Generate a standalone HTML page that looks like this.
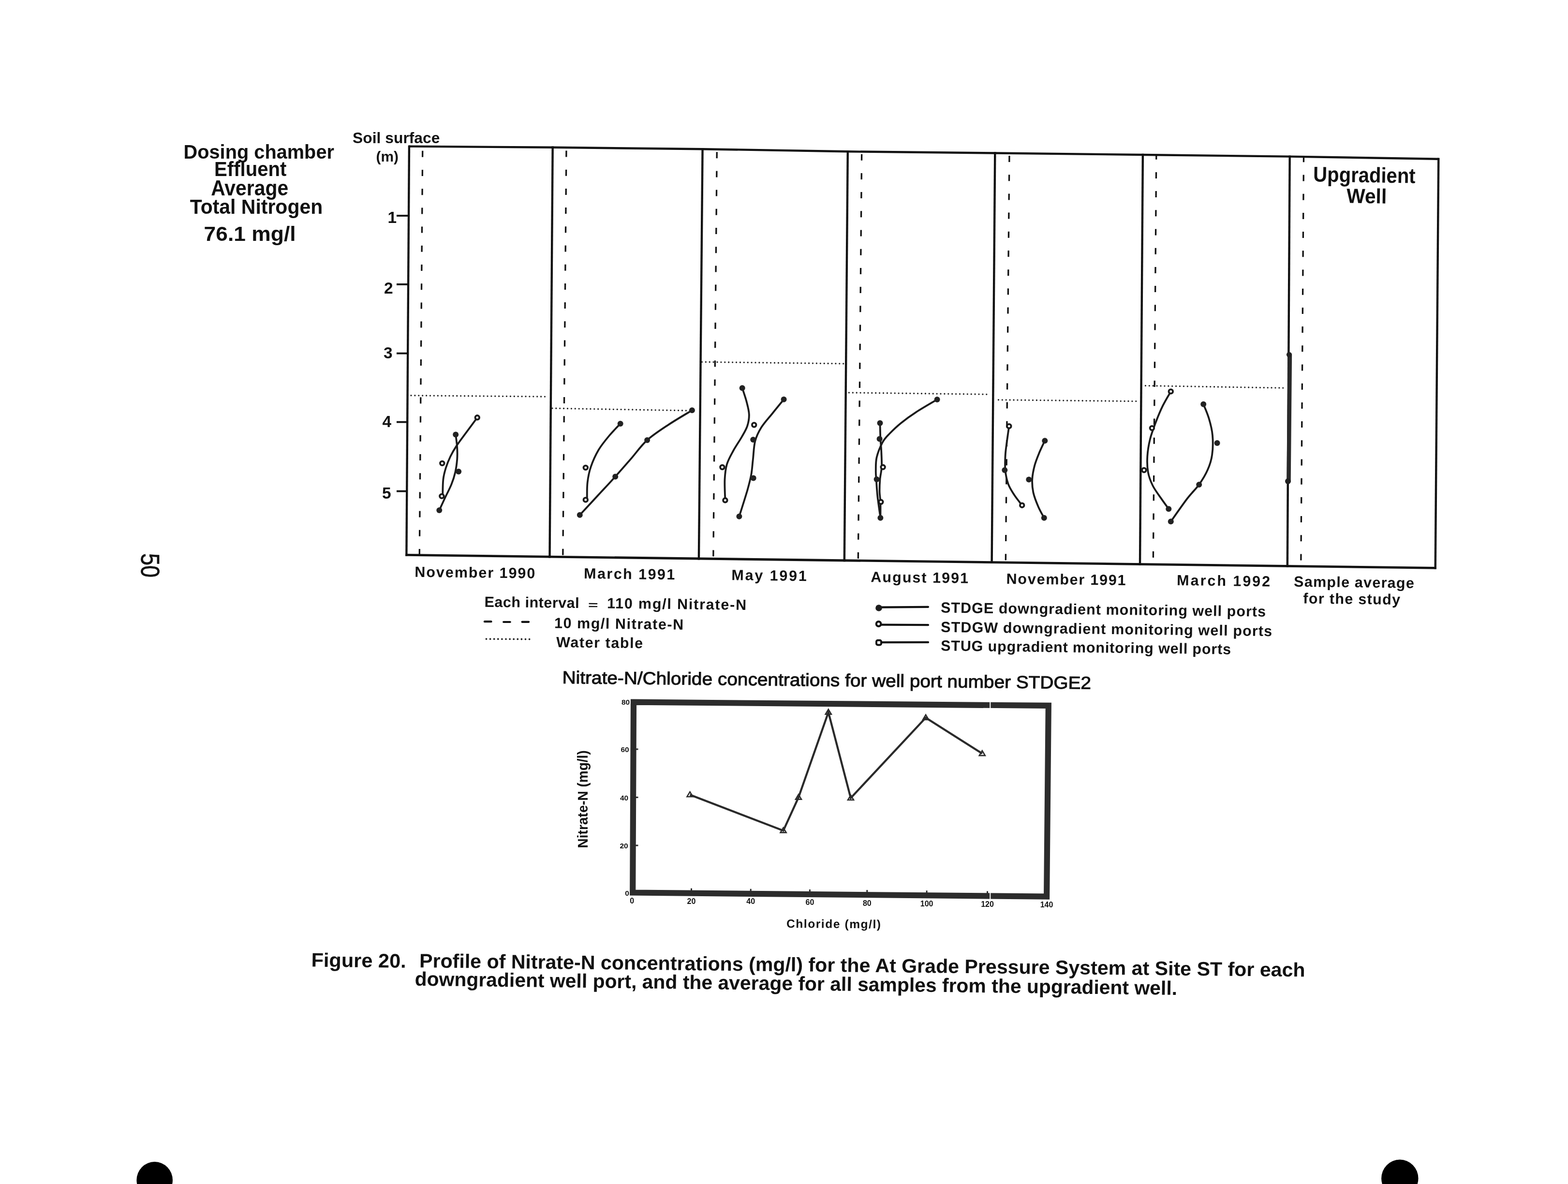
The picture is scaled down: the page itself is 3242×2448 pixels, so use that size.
<!DOCTYPE html>
<html><head><meta charset="utf-8"><title>Figure 20</title>
<style>html,body{margin:0;padding:0;background:#fff;width:3242px;height:2448px;overflow:hidden}svg{display:block}</style>
</head><body>
<svg width="3242" height="2448" viewBox="0 0 3242 2448" font-family="'Liberation Sans', Arial, sans-serif" fill="#111">
<rect x="0" y="0" width="3242" height="2448" fill="#fff"/>
<polyline points="846,302.6 1142.7,304.8 1452.6,308.2 1752.8,313.3 2057.3,316.5 2362.9,320 2666.7,323.6 2974.3,328.7" fill="none" stroke="#111" stroke-width="4.4"/>
<line x1="838.4" y1="1147.3" x2="2969.7" y2="1174.3" stroke="#111" stroke-width="4.8"/>
<line x1="846" y1="300.4" x2="840.4" y2="1149.7" stroke="#111" stroke-width="4.4"/>
<line x1="1142.7" y1="302.6" x2="1136.5" y2="1153.5" stroke="#111" stroke-width="4.4"/>
<line x1="1452.6" y1="306" x2="1444.9" y2="1157.4" stroke="#111" stroke-width="4.4"/>
<line x1="1752.8" y1="311.1" x2="1745.8" y2="1161.2" stroke="#111" stroke-width="4.4"/>
<line x1="2057.3" y1="314.3" x2="2050.6" y2="1165.1" stroke="#111" stroke-width="4.4"/>
<line x1="2362.9" y1="317.8" x2="2357" y2="1168.9" stroke="#111" stroke-width="4.4"/>
<line x1="2666.7" y1="321.4" x2="2661.8" y2="1172.8" stroke="#111" stroke-width="4.4"/>
<line x1="2974.3" y1="326.5" x2="2967.7" y2="1176.7" stroke="#111" stroke-width="4.4"/>
<line x1="873.8" y1="302.8" x2="867.3" y2="1147.6" stroke="#111" stroke-width="3.3" stroke-dasharray="13 26.2" stroke-dashoffset="30.2"/>
<line x1="1171" y1="305.1" x2="1163.8" y2="1151.4" stroke="#111" stroke-width="3.3" stroke-dasharray="13 26.2" stroke-dashoffset="32.8"/>
<line x1="1482.3" y1="308.7" x2="1474.8" y2="1155.4" stroke="#111" stroke-width="3.3" stroke-dasharray="13 26.2" stroke-dashoffset="33.7"/>
<line x1="1781.7" y1="313.6" x2="1774.3" y2="1159.2" stroke="#111" stroke-width="3.3" stroke-dasharray="13 26.2" stroke-dashoffset="34.1"/>
<line x1="2087" y1="316.8" x2="2079.3" y2="1163" stroke="#111" stroke-width="3.3" stroke-dasharray="13 26.2" stroke-dashoffset="34"/>
<line x1="2390.8" y1="320.3" x2="2384.3" y2="1166.9" stroke="#111" stroke-width="3.3" stroke-dasharray="13 26.2" stroke-dashoffset="3.6"/>
<line x1="2695.5" y1="324.1" x2="2689.8" y2="1170.8" stroke="#111" stroke-width="3.3" stroke-dasharray="13 26.2" stroke-dashoffset="1.8"/>
<line x1="820" y1="446" x2="843" y2="446" stroke="#111" stroke-width="3.8"/>
<line x1="820" y1="587.9" x2="843" y2="587.9" stroke="#111" stroke-width="3.8"/>
<line x1="820" y1="730.6" x2="843" y2="730.6" stroke="#111" stroke-width="3.8"/>
<line x1="820" y1="872.6" x2="843" y2="872.6" stroke="#111" stroke-width="3.8"/>
<line x1="820" y1="1015.6" x2="843" y2="1015.6" stroke="#111" stroke-width="3.8"/>
<text x="801.5" y="460.5" font-size="33.5" font-weight="bold">1</text>
<text x="794" y="606.5" font-size="33.5" font-weight="bold">2</text>
<text x="793" y="741" font-size="33.5" font-weight="bold">3</text>
<text x="790.5" y="883" font-size="33.5" font-weight="bold">4</text>
<text x="790" y="1031" font-size="33.5" font-weight="bold">5</text>
<text x="729" y="296" font-size="31.5" font-weight="bold" textLength="180.5" lengthAdjust="spacingAndGlyphs">Soil surface</text>
<text x="777.5" y="334" font-size="29" font-weight="bold" textLength="46.5" lengthAdjust="spacingAndGlyphs">(m)</text>
<line x1="850" y1="817.7" x2="1133" y2="820.1" stroke="#222" stroke-width="3.3" stroke-dasharray="0 7.9" stroke-linecap="round"/>
<line x1="1141.9" y1="844.1" x2="1436.9" y2="849.2" stroke="#222" stroke-width="3.3" stroke-dasharray="0 7.9" stroke-linecap="round"/>
<line x1="1451.4" y1="748.3" x2="1744.9" y2="751.9" stroke="#222" stroke-width="3.3" stroke-dasharray="0 7.9" stroke-linecap="round"/>
<line x1="1755.4" y1="811.8" x2="2047.4" y2="815.4" stroke="#222" stroke-width="3.3" stroke-dasharray="0 7.9" stroke-linecap="round"/>
<line x1="2064.4" y1="826.7" x2="2356.4" y2="829.7" stroke="#222" stroke-width="3.3" stroke-dasharray="0 7.9" stroke-linecap="round"/>
<line x1="2368.4" y1="797.4" x2="2658.9" y2="802.2" stroke="#222" stroke-width="3.3" stroke-dasharray="0 7.9" stroke-linecap="round"/>
<path d="M986.8,863.3 C982.5,869.2 968,888.7 960.7,898.6 C953.5,908.5 948.3,915.1 943.4,922.6 C938.5,930 935,936 931.4,943.5 C927.8,951 924.3,959.5 921.8,967.5 C919.3,975.5 917.5,981.7 916.4,991.4 C915.3,1001.2 915.4,1020.1 915.2,1025.9" fill="none" stroke="#1a1a1a" stroke-width="3.8" stroke-linecap="round" stroke-linejoin="round"/>
<path d="M942.2,898.6 C942.7,903.1 944.7,917.1 945.2,925.6 C945.7,934 945.8,941 945.2,949.5 C944.5,958 943.3,967.7 941.3,976.5 C939.3,985.2 936.7,993.2 933.2,1001.9 C929.7,1010.6 924.5,1020 920.3,1028.9 C916.2,1037.7 910.3,1050.6 908.3,1054.9" fill="none" stroke="#1a1a1a" stroke-width="3.8" stroke-linecap="round" stroke-linejoin="round"/>
<circle cx="942.2" cy="898.6" r="6" fill="#222"/>
<circle cx="948.2" cy="975" r="6" fill="#222"/>
<circle cx="908.3" cy="1054.9" r="6" fill="#222"/>
<circle cx="986.8" cy="863.3" r="4.3" fill="#fff" stroke="#1a1a1a" stroke-width="3.8"/>
<circle cx="914.3" cy="957.9" r="4.3" fill="#fff" stroke="#1a1a1a" stroke-width="3.8"/>
<circle cx="913.4" cy="1025.9" r="4.3" fill="#fff" stroke="#1a1a1a" stroke-width="3.8"/>
<path d="M1198.8,1064.8 C1205,1058.1 1224,1037.6 1236.2,1024.4 C1248.5,1011.1 1260.7,998.2 1272.2,985.4 C1283.7,972.7 1294.1,960.6 1305.1,948 C1316.1,935.4 1325.1,921.7 1338.1,910 C1351,898.3 1367.5,887.9 1383,877.6 C1398.4,867.4 1422.9,853.2 1430.9,848.3" fill="none" stroke="#1a1a1a" stroke-width="3.8" stroke-linecap="round" stroke-linejoin="round"/>
<path d="M1282.7,876.1 C1278.9,880.1 1267.7,891.1 1260.2,900.1 C1252.7,909.1 1244.1,919.3 1237.7,930 C1231.4,940.8 1225.7,953.3 1221.9,964.5 C1218,975.7 1216,985.9 1214.7,997.4 C1213.3,1008.9 1213.9,1027.4 1213.8,1033.4" fill="none" stroke="#1a1a1a" stroke-width="3.8" stroke-linecap="round" stroke-linejoin="round"/>
<circle cx="1198.8" cy="1064.8" r="6" fill="#222"/>
<circle cx="1272.2" cy="985.4" r="6" fill="#222"/>
<circle cx="1338.1" cy="910" r="6" fill="#222"/>
<circle cx="1430.9" cy="848.3" r="6" fill="#222"/>
<circle cx="1282.7" cy="876.1" r="6" fill="#222"/>
<circle cx="1210.8" cy="966.9" r="4.3" fill="#fff" stroke="#1a1a1a" stroke-width="3.8"/>
<circle cx="1210.8" cy="1033.4" r="4.3" fill="#fff" stroke="#1a1a1a" stroke-width="3.8"/>
<path d="M1534.7,802.2 C1536.1,806.8 1541,820.6 1543.4,829.7 C1545.7,838.8 1548.5,848.2 1548.8,856.7 C1549.1,865.2 1547.7,872.9 1545.2,880.6 C1542.7,888.4 1538.6,894.6 1533.8,903.1 C1529,911.6 1521.6,922.1 1516.4,931.5 C1511.3,941 1505.9,950 1502.9,960 C1500,970 1499.1,979.1 1498.5,991.4 C1497.9,1003.8 1499.2,1027.1 1499.4,1034.3" fill="none" stroke="#1a1a1a" stroke-width="3.8" stroke-linecap="round" stroke-linejoin="round"/>
<path d="M1620.6,825.8 C1616.6,830.7 1604.4,845.5 1596.7,855.2 C1588.9,864.8 1580.1,874.1 1574.2,883.6 C1568.3,893.1 1564.2,901.1 1561.3,912.1 C1558.4,923.1 1558.2,938 1556.9,949.5 C1555.5,961 1555.2,970.2 1553.3,981 C1551.3,991.7 1549.3,999.4 1545.2,1013.9 C1541,1028.4 1531.2,1058.8 1528.4,1067.8" fill="none" stroke="#1a1a1a" stroke-width="3.8" stroke-linecap="round" stroke-linejoin="round"/>
<circle cx="1534.7" cy="802.2" r="6" fill="#222"/>
<circle cx="1620.6" cy="825.8" r="6" fill="#222"/>
<circle cx="1557.2" cy="909.1" r="6" fill="#222"/>
<circle cx="1557.7" cy="988.4" r="6" fill="#222"/>
<circle cx="1528.4" cy="1067.8" r="6" fill="#222"/>
<circle cx="1559.2" cy="878.5" r="4.3" fill="#fff" stroke="#1a1a1a" stroke-width="3.8"/>
<circle cx="1493.4" cy="966" r="4.3" fill="#fff" stroke="#1a1a1a" stroke-width="3.8"/>
<circle cx="1499.4" cy="1034.3" r="4.3" fill="#fff" stroke="#1a1a1a" stroke-width="3.8"/>
<path d="M1937.6,826 C1930.4,830.4 1906.6,844 1894.2,852.1 C1881.7,860.2 1872.2,867.2 1862.9,874.7 C1853.6,882.2 1845,890.6 1838.6,897.2 C1832.2,903.9 1829.1,906.5 1824.7,914.6 C1820.4,922.7 1814.9,936 1812.6,945.8 C1810.3,955.7 1811,966.1 1810.8,973.6 C1810.7,981.1 1811.1,982.3 1811.7,991 C1812.3,999.7 1812.9,1012.4 1814.3,1025.7 C1815.8,1039 1819.4,1063.3 1820.4,1070.8" fill="none" stroke="#1a1a1a" stroke-width="3.8" stroke-linecap="round" stroke-linejoin="round"/>
<path d="M1819.5,874.7 C1819.7,880.2 1820,898.3 1820.4,907.6 C1820.8,916.8 1821.7,920.6 1822.1,930.2 C1822.5,939.7 1823.4,954.8 1823,964.9 C1822.6,975 1820.2,982.3 1819.5,991 C1818.8,999.7 1818.5,1009.2 1818.6,1017 C1818.8,1024.8 1820.1,1028.9 1820.4,1037.8 C1820.7,1046.8 1820.4,1065.3 1820.4,1070.8" fill="none" stroke="#1a1a1a" stroke-width="3.8" stroke-linecap="round" stroke-linejoin="round"/>
<circle cx="1937.6" cy="826" r="6" fill="#222"/>
<circle cx="1819.5" cy="874.7" r="6" fill="#222"/>
<circle cx="1818.6" cy="907.6" r="6" fill="#222"/>
<circle cx="1812.6" cy="991" r="6" fill="#222"/>
<circle cx="1820.4" cy="1070.8" r="6" fill="#222"/>
<circle cx="1825.6" cy="965.8" r="4.3" fill="#fff" stroke="#1a1a1a" stroke-width="3.8"/>
<circle cx="1821.3" cy="1037.8" r="4.3" fill="#fff" stroke="#1a1a1a" stroke-width="3.8"/>
<path d="M2086.3,881.2 C2085.6,885.9 2083.7,899.5 2082.4,909.1 C2081.2,918.7 2079.5,928.5 2078.8,939 C2078.2,949.5 2077.6,961.7 2078.5,972 C2079.5,982.2 2081.4,991.8 2084.5,1000.4 C2087.6,1009.1 2092.6,1016.4 2097.4,1023.8 C2102.2,1031.2 2110.6,1041.2 2113.2,1044.7" fill="none" stroke="#1a1a1a" stroke-width="3.8" stroke-linecap="round" stroke-linejoin="round"/>
<path d="M2160.3,911.2 C2158.4,915.2 2152.7,926.7 2149.2,935.1 C2145.7,943.6 2141.8,952.7 2139.3,962.1 C2136.8,971.5 2134.7,982 2134.2,991.4 C2133.8,1000.9 2134.5,1009.6 2136.6,1019 C2138.7,1028.4 2143.1,1039.1 2146.8,1047.7 C2150.5,1056.4 2156.8,1066.9 2158.8,1070.8" fill="none" stroke="#1a1a1a" stroke-width="3.8" stroke-linecap="round" stroke-linejoin="round"/>
<circle cx="2077.3" cy="972" r="6" fill="#222"/>
<circle cx="2160.3" cy="911.2" r="6" fill="#222"/>
<circle cx="2127.3" cy="991.4" r="6" fill="#222"/>
<circle cx="2158.8" cy="1070.8" r="6" fill="#222"/>
<circle cx="2086.3" cy="881.2" r="4.3" fill="#fff" stroke="#1a1a1a" stroke-width="3.8"/>
<circle cx="2113.2" cy="1044.7" r="4.3" fill="#fff" stroke="#1a1a1a" stroke-width="3.8"/>
<path d="M2420.8,809.4 C2418,814.3 2409.4,828.3 2404.3,838.7 C2399.2,849.1 2394.6,860.2 2390.2,871.7 C2385.9,883.1 2381,895.6 2378,907.6 C2375,919.6 2373,932 2372.3,943.5 C2371.6,955 2371.9,966.4 2373.8,976.5 C2375.6,986.5 2378.9,995 2383.4,1004 C2387.8,1013 2395.2,1022.3 2400.7,1030.4 C2406.2,1038.4 2413.7,1048.6 2416.3,1052.2" fill="none" stroke="#1a1a1a" stroke-width="3.8" stroke-linecap="round" stroke-linejoin="round"/>
<path d="M2488.2,835.7 C2490.1,840.6 2496.4,854.3 2499.5,865.1 C2502.7,875.8 2505.9,887.5 2507,900.1 C2508.1,912.7 2507.8,928.7 2506.1,940.5 C2504.5,952.4 2501.6,960.8 2497.1,971.1 C2492.7,981.3 2486.3,991.9 2479.2,1001.9 C2472.1,1011.9 2464.4,1018.2 2454.6,1031 C2444.9,1043.7 2426.4,1070.4 2420.8,1078.3" fill="none" stroke="#1a1a1a" stroke-width="3.8" stroke-linecap="round" stroke-linejoin="round"/>
<circle cx="2416.3" cy="1052.2" r="6" fill="#222"/>
<circle cx="2488.2" cy="835.7" r="6" fill="#222"/>
<circle cx="2516.6" cy="916" r="6" fill="#222"/>
<circle cx="2479.2" cy="1001.9" r="6" fill="#222"/>
<circle cx="2420.8" cy="1078.3" r="6" fill="#222"/>
<circle cx="2420.8" cy="809.4" r="4.3" fill="#fff" stroke="#1a1a1a" stroke-width="3.8"/>
<circle cx="2381.9" cy="885.1" r="4.3" fill="#fff" stroke="#1a1a1a" stroke-width="3.8"/>
<circle cx="2365.4" cy="972" r="4.3" fill="#fff" stroke="#1a1a1a" stroke-width="3.8"/>
<line x1="2666.9" y1="733.3" x2="2664.5" y2="995" stroke="#2a2a2a" stroke-width="8.5" stroke-linecap="round"/>
<circle cx="2665.4" cy="733.3" r="5.5" fill="#222"/>
<circle cx="2663" cy="995" r="6" fill="#222"/>
<text x="379.5" y="328.3" font-size="40.5" font-weight="bold" textLength="311.5" lengthAdjust="spacingAndGlyphs">Dosing chamber</text>
<text x="443" y="364.2" font-size="42" font-weight="bold" textLength="149.5" lengthAdjust="spacingAndGlyphs">Effluent</text>
<text x="436.2" y="403.6" font-size="43.5" font-weight="bold" textLength="160" lengthAdjust="spacingAndGlyphs">Average</text>
<text x="392.7" y="442" font-size="42.5" font-weight="bold" textLength="274.5" lengthAdjust="spacingAndGlyphs">Total Nitrogen</text>
<text x="421.6" y="498.4" font-size="42.5" font-weight="bold" textLength="190" lengthAdjust="spacingAndGlyphs">76.1 mg/l</text>
<text x="2715" y="375.3" font-size="44" font-weight="bold" textLength="211.5" lengthAdjust="spacingAndGlyphs" transform="rotate(0.9 2715 375.3)">Upgradient</text>
<text x="2784" y="419.4" font-size="42.5" font-weight="bold" textLength="83" lengthAdjust="spacingAndGlyphs" transform="rotate(0.9 2784 419.4)">Well</text>
<text x="857.2" y="1192.7" font-size="30.5" font-weight="bold" textLength="249.1" lengthAdjust="spacing" transform="rotate(0.7 857.2 1192.7)">November 1990</text>
<text x="1207.1" y="1196" font-size="30.5" font-weight="bold" textLength="188.1" lengthAdjust="spacing" transform="rotate(0.7 1207.1 1196)">March 1991</text>
<text x="1512.2" y="1199.2" font-size="30.5" font-weight="bold" textLength="155.6" lengthAdjust="spacing" transform="rotate(0.7 1512.2 1199.2)">May 1991</text>
<text x="1800.2" y="1203.2" font-size="30.5" font-weight="bold" textLength="201.9" lengthAdjust="spacing" transform="rotate(0.7 1800.2 1203.2)">August 1991</text>
<text x="2080.5" y="1206.9" font-size="30.5" font-weight="bold" textLength="247" lengthAdjust="spacing" transform="rotate(0.7 2080.5 1206.9)">November 1991</text>
<text x="2433.1" y="1210" font-size="30.5" font-weight="bold" textLength="192.9" lengthAdjust="spacing" transform="rotate(0.7 2433.1 1210)">March 1992</text>
<text x="2675.1" y="1212.8" font-size="30.5" font-weight="bold" textLength="248.6" lengthAdjust="spacing" transform="rotate(0.7 2675.1 1212.8)">Sample average</text>
<text x="2694.3" y="1247.5" font-size="30.5" font-weight="bold" textLength="200.6" lengthAdjust="spacing" transform="rotate(0.7 2694.3 1247.5)">for the study</text>
<text x="1001.5" y="1254.7" font-size="30.5" font-weight="bold" textLength="196" lengthAdjust="spacing" transform="rotate(0.7 1001.5 1254.7)">Each interval</text>
<text x="1216" y="1258.3" font-size="22" font-weight="bold" textLength="20.5" lengthAdjust="spacingAndGlyphs" transform="rotate(0.7 1216 1258.3)">=</text>
<text x="1255" y="1257.5" font-size="30.5" font-weight="bold" textLength="288" lengthAdjust="spacing" transform="rotate(0.7 1255 1257.5)">110 mg/l Nitrate-N</text>
<line x1="1002" y1="1285.2" x2="1015.5" y2="1285.2" stroke="#111" stroke-width="4.2" stroke-linecap="round"/>
<line x1="1041.2" y1="1286" x2="1054.7" y2="1286" stroke="#111" stroke-width="4.2" stroke-linecap="round"/>
<line x1="1079.6" y1="1285.8" x2="1093.1" y2="1285.8" stroke="#111" stroke-width="4.2" stroke-linecap="round"/>
<text x="1146" y="1298.4" font-size="30.5" font-weight="bold" textLength="267" lengthAdjust="spacing" transform="rotate(0.7 1146 1298.4)">10 mg/l Nitrate-N</text>
<line x1="1005.5" y1="1321.1" x2="1094.6" y2="1321.6" stroke="#222" stroke-width="3.8" stroke-dasharray="0 8.1" stroke-linecap="round"/>
<text x="1150" y="1338" font-size="30.5" font-weight="bold" textLength="179" lengthAdjust="spacing" transform="rotate(0.7 1150 1338)">Water table</text>
<line x1="1818" y1="1255.6" x2="1919" y2="1254.8" stroke="#111" stroke-width="4.2" stroke-linecap="round"/>
<circle cx="1817" cy="1257" r="6.8" fill="#1c1c1c"/>
<line x1="1818" y1="1291.6" x2="1919" y2="1292.2" stroke="#111" stroke-width="4.2" stroke-linecap="round"/>
<circle cx="1816.6" cy="1290" r="4.8" fill="#fff" stroke="#111" stroke-width="4.2"/>
<line x1="1818" y1="1328.2" x2="1919" y2="1327.9" stroke="#111" stroke-width="4.2" stroke-linecap="round"/>
<rect x="1812.0" y="1323.8" width="10" height="9.6" rx="3" fill="#fff" stroke="#111" stroke-width="4"/>
<text x="1945" y="1266.6" font-size="30.5" font-weight="bold" textLength="672" lengthAdjust="spacing" transform="rotate(0.7 1945 1266.6)">STDGE downgradient monitoring well ports</text>
<text x="1945" y="1306.8" font-size="30.5" font-weight="bold" textLength="685" lengthAdjust="spacing" transform="rotate(0.7 1945 1306.8)">STDGW downgradient monitoring well ports</text>
<text x="1945" y="1345.3" font-size="30.5" font-weight="bold" textLength="600" lengthAdjust="spacing" transform="rotate(0.7 1945 1345.3)">STUG upgradient monitoring well ports</text>
<text x="1162.5" y="1413" font-size="36.5" textLength="1093.5" lengthAdjust="spacingAndGlyphs" transform="rotate(0.6 1162.5 1413)" stroke="#111" stroke-width="1.0">Nitrate-N/Chloride concentrations for well port number STDGE2</text>
<path d="M1310,1451.7 L2167.8,1458.9 L2164.1,1853.7 L1308.2,1845.5 Z" fill="none" stroke="#2c2c2c" stroke-width="12.2" stroke-linejoin="miter"/>
<line x1="2047.3" y1="1448" x2="2047.3" y2="1466" stroke="#fff" stroke-width="2"/>
<line x1="2047.3" y1="1840" x2="2047.3" y2="1862" stroke="#fff" stroke-width="2"/>
<polyline points="1426.5,1643.2 1619.6,1717.4 1651,1648.6 1712.8,1472.6 1759,1650 1914.1,1483.9 2030.8,1558.1" fill="none" stroke="#2a2a2a" stroke-width="4.2" stroke-linejoin="miter" stroke-miterlimit="10"/>
<path d="M1426.5,1637.2 l6,10 l-12,0 Z" fill="none" stroke="#2a2a2a" stroke-width="2.6"/>
<path d="M1619.6,1711.4 l6,10 l-12,0 Z" fill="none" stroke="#2a2a2a" stroke-width="2.6"/>
<path d="M1651,1642.6 l6,10 l-12,0 Z" fill="none" stroke="#2a2a2a" stroke-width="2.6"/>
<path d="M1712.8,1466.6 l6,10 l-12,0 Z" fill="none" stroke="#2a2a2a" stroke-width="2.6"/>
<path d="M1759,1644 l6,10 l-12,0 Z" fill="none" stroke="#2a2a2a" stroke-width="2.6"/>
<path d="M1914.1,1477.9 l6,10 l-12,0 Z" fill="none" stroke="#2a2a2a" stroke-width="2.6"/>
<path d="M2030.8,1552.1 l6,10 l-12,0 Z" fill="none" stroke="#2a2a2a" stroke-width="2.6"/>
<text x="1293.5" y="1457.1" font-size="15.5" font-weight="bold" text-anchor="middle">80</text>
<text x="1292" y="1555.4" font-size="15.5" font-weight="bold" text-anchor="middle">60</text>
<text x="1290.5" y="1654.9" font-size="15.5" font-weight="bold" text-anchor="middle">40</text>
<text x="1290" y="1754.1" font-size="15.5" font-weight="bold" text-anchor="middle">20</text>
<text x="1296.5" y="1852.4" font-size="15.5" font-weight="bold" text-anchor="middle">0</text>
<line x1="1313" y1="1549" x2="1319.5" y2="1549" stroke="#2c2c2c" stroke-width="3"/>
<line x1="1313" y1="1648.6" x2="1319.5" y2="1648.6" stroke="#2c2c2c" stroke-width="3"/>
<line x1="1313" y1="1748" x2="1319.5" y2="1748" stroke="#2c2c2c" stroke-width="3"/>
<text x="1306.7" y="1867.8" font-size="16" font-weight="bold" text-anchor="middle">0</text>
<text x="1429.5" y="1868.8" font-size="16" font-weight="bold" text-anchor="middle">20</text>
<text x="1552.2" y="1869.4" font-size="16" font-weight="bold" text-anchor="middle">40</text>
<text x="1674.4" y="1870.8" font-size="16" font-weight="bold" text-anchor="middle">60</text>
<text x="1792.8" y="1872.6" font-size="16" font-weight="bold" text-anchor="middle">80</text>
<text x="1916.1" y="1873.5" font-size="16" font-weight="bold" text-anchor="middle">100</text>
<text x="2041.5" y="1874.8" font-size="16" font-weight="bold" text-anchor="middle">120</text>
<text x="2164" y="1876.4" font-size="16" font-weight="bold" text-anchor="middle">140</text>
<line x1="1429.5" y1="1841.7" x2="1429.5" y2="1836.7" stroke="#2c2c2c" stroke-width="3"/>
<line x1="1552.2" y1="1842.8" x2="1552.2" y2="1837.8" stroke="#2c2c2c" stroke-width="3"/>
<line x1="1674.4" y1="1844" x2="1674.4" y2="1839" stroke="#2c2c2c" stroke-width="3"/>
<line x1="1792.8" y1="1845.1" x2="1792.8" y2="1840.1" stroke="#2c2c2c" stroke-width="3"/>
<line x1="1916.1" y1="1846.3" x2="1916.1" y2="1841.3" stroke="#2c2c2c" stroke-width="3"/>
<line x1="2041.5" y1="1847.5" x2="2041.5" y2="1842.5" stroke="#2c2c2c" stroke-width="3"/>
<text x="1626" y="1918" font-size="24.5" font-weight="bold" textLength="195" lengthAdjust="spacing" transform="rotate(0.4 1626 1918)">Chloride (mg/l)</text>
<text x="0" y="0" font-size="29" font-weight="bold" textLength="202" lengthAdjust="spacingAndGlyphs" transform="translate(1214.5,1753.4) rotate(-90)">Nitrate-N (mg/l)</text>
<text x="643.5" y="1998.6" font-size="40.5" font-weight="bold" textLength="196" lengthAdjust="spacingAndGlyphs" transform="rotate(0.7 643.5 1998.6)">Figure 20.</text>
<text x="867" y="2000.2" font-size="40.5" font-weight="bold" textLength="1831.5" lengthAdjust="spacingAndGlyphs" transform="rotate(0.6 867 2000.2)">Profile of Nitrate-N concentrations (mg/l) for the At Grade  Pressure System at Site ST for each</text>
<text x="857.5" y="2037.8" font-size="40.5" font-weight="bold" textLength="1576.5" lengthAdjust="spacingAndGlyphs" transform="rotate(0.7 857.5 2037.8)">downgradient well port, and the average for all samples from the upgradient well.</text>
<text x="0" y="0" font-size="53" fill="#111" stroke="#111" stroke-width="0.8" textLength="50" lengthAdjust="spacingAndGlyphs" transform="translate(291.5,1144.0) rotate(90)">50</text>
<ellipse cx="319.7" cy="2440" rx="37.3" ry="38" fill="#000"/>
<ellipse cx="2894.3" cy="2436.5" rx="38.2" ry="39" fill="#000"/>
</svg>
</body></html>
